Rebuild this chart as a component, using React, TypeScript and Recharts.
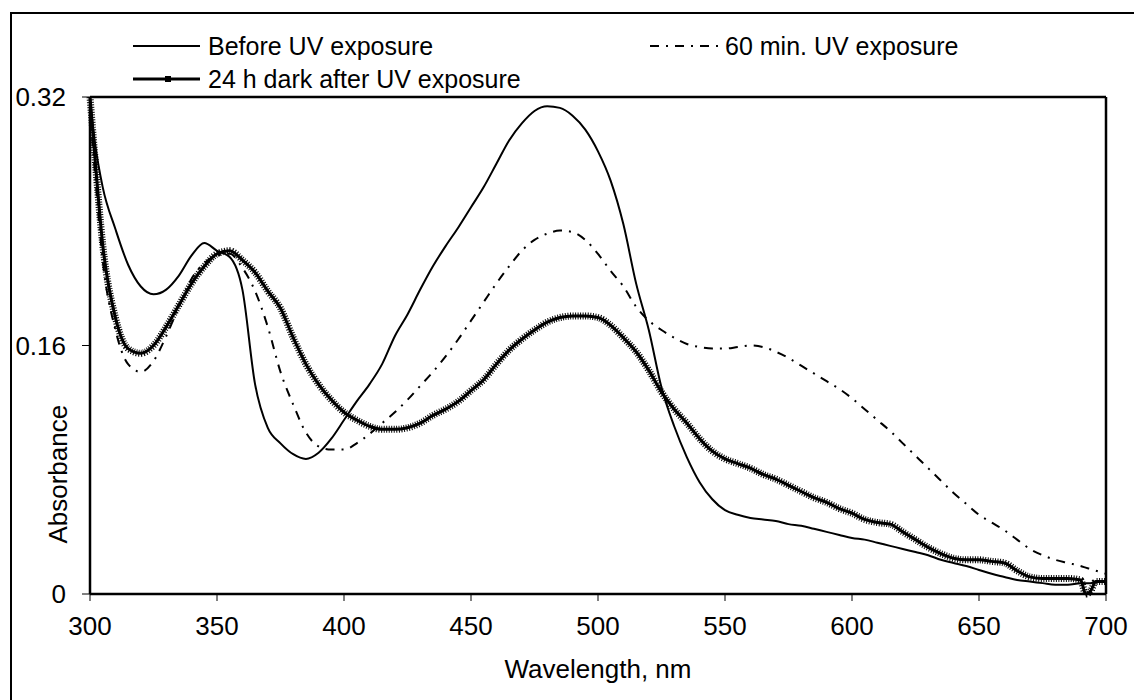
import React from "react";
import { LineChart, Line, XAxis, YAxis, ReferenceLine } from "recharts";

// wavelength, nm
const wavelengths = [
  300, 302, 305, 310, 315, 320, 325, 330, 335, 340, 345, 350, 355, 360, 365, 370, 375, 380, 385, 390,
  395, 400, 405, 410, 415, 420, 425, 430, 435, 440, 445, 450, 455, 460, 465, 470, 475, 480, 485, 490,
  495, 500, 505, 510, 515, 520, 525, 530, 535, 540, 545, 550, 555, 560, 565, 570, 575, 580, 585, 590,
  595, 600, 605, 610, 615, 620, 625, 630, 635, 640, 645, 650, 655, 660, 665, 670, 675, 680, 685, 690,
  692, 694, 696, 700,
];

const beforeUv = [
  0.318, 0.29, 0.262, 0.235, 0.212, 0.198, 0.193, 0.196, 0.205, 0.218, 0.226, 0.221, 0.217, 0.196, 0.135, 0.107, 0.097, 0.09, 0.087, 0.091,
  0.1, 0.112, 0.124, 0.135, 0.148, 0.166, 0.18, 0.196, 0.211, 0.224, 0.236, 0.249, 0.262, 0.277, 0.292, 0.303, 0.311, 0.314, 0.313, 0.308,
  0.299, 0.285, 0.266, 0.238, 0.2, 0.17, 0.133, 0.108, 0.088, 0.072, 0.061, 0.054, 0.051, 0.049, 0.048, 0.047, 0.045, 0.044, 0.042, 0.04,
  0.038, 0.036, 0.035, 0.033, 0.031, 0.029, 0.027, 0.025, 0.022, 0.02, 0.018, 0.0155, 0.013, 0.011, 0.009, 0.008, 0.007, 0.006, 0.006, 0.007,
  0.007, 0.007, 0.008, 0.008,
];

const uv60min = [
  0.31, 0.27, 0.215, 0.17, 0.148, 0.143, 0.15, 0.166, 0.185, 0.203, 0.213, 0.218, 0.219, 0.21, 0.195, 0.172, 0.143, 0.122, 0.104, 0.095,
  0.093, 0.093, 0.097, 0.103, 0.11, 0.117, 0.125, 0.134, 0.143, 0.153, 0.164, 0.176, 0.188, 0.2, 0.211, 0.221, 0.228, 0.232, 0.234, 0.233,
  0.228, 0.219, 0.208, 0.198, 0.185, 0.176, 0.17, 0.165, 0.161, 0.159, 0.158, 0.158, 0.159, 0.16, 0.159, 0.156, 0.152, 0.147, 0.142, 0.137,
  0.132, 0.126, 0.119, 0.112, 0.105, 0.097, 0.089, 0.081, 0.073, 0.065, 0.058, 0.051, 0.046, 0.041, 0.035, 0.029, 0.025, 0.022, 0.02, 0.018,
  0.017, 0.016, 0.015, 0.013,
];

const dark24h = [
  0.32, 0.28, 0.225, 0.178, 0.158, 0.155, 0.16, 0.172, 0.186, 0.2, 0.211, 0.219, 0.221, 0.215, 0.207, 0.195, 0.184, 0.165, 0.148, 0.135,
  0.125, 0.117, 0.112, 0.108, 0.106, 0.106, 0.107, 0.11, 0.115, 0.119, 0.124, 0.131, 0.138, 0.148, 0.157, 0.164, 0.17, 0.175, 0.178, 0.179,
  0.179, 0.178, 0.173, 0.165, 0.156, 0.144, 0.13, 0.119, 0.11, 0.1, 0.092, 0.087, 0.084, 0.081, 0.077, 0.074, 0.07, 0.066, 0.062, 0.059,
  0.055, 0.052, 0.048, 0.046, 0.045, 0.04, 0.035, 0.03, 0.026, 0.023, 0.022, 0.022, 0.021, 0.02, 0.015, 0.011, 0.01, 0.01, 0.01, 0.009,
  0.0, 0.002, 0.008, 0.008,
];

const xTicks = [300, 350, 400, 450, 500, 550, 600, 650, 700];
const yTicks = [0, 0.16, 0.32];

const data = wavelengths.map((w, i) => ({
  w,
  before: beforeUv[i],
  uv60: uv60min[i],
  dark: dark24h[i],
}));

const FONT = "'Liberation Sans', Arial, sans-serif";
const DASHDOT = "9 7 2 7";

function Legend() {
  const txt = { fontFamily: FONT, fontSize: 25, fill: "#000" };
  return (
    <svg width={1134} height={100} style={{ position: "absolute", left: 0, top: 0 }}>
      <line x1={133} x2={200} y1={46} y2={46} stroke="#000" strokeWidth={2} />
      <text x={208} y={46} dy="0.35em" {...txt}>Before UV exposure</text>
      <line x1={650} x2={718} y1={46} y2={46} stroke="#000" strokeWidth={2} strokeDasharray={DASHDOT} />
      <text x={725} y={46} dy="0.35em" {...txt}>60 min. UV exposure</text>
      <line x1={133} x2={200} y1={79} y2={79} stroke="#000" strokeWidth={3} />
      <rect x={165} y={76} width={6} height={6} fill="#000" />
      <text x={208} y={79} dy="0.35em" {...txt}>24 h dark after UV exposure</text>
    </svg>
  );
}

export default function App() {
  const tickStyle = { fontFamily: FONT, fontSize: 26, fill: "#000" };
  return (
    <div style={{ position: "absolute", left: 0, top: 0, width: 1134, height: 700, overflow: "hidden", background: "#fff" }}>
      <div
        style={{
          position: "absolute",
          left: 10,
          top: 12,
          width: 1200,
          height: 800,
          border: "2px solid #000",
          boxSizing: "border-box",
        }}
      />
      <Legend />
      <div style={{ position: "absolute", left: 0, top: 0 }}>
        <LineChart width={1134} height={700} data={data} margin={{ top: 97, right: 28, bottom: 46, left: 10 }}>
          <XAxis
            dataKey="w"
            type="number"
            domain={[300, 700]}
            ticks={xTicks}
            interval={0}
            height={60}
            tickSize={7}
            tickMargin={16}
            tick={tickStyle}
            stroke="#000"
            strokeWidth={2.5}
            tickLine={{ stroke: "#000", strokeWidth: 1 }}
            label={({ viewBox }: any) => (
              <text
                x={viewBox.x + viewBox.width / 2}
                y={669}
                dy="0.35em"
                textAnchor="middle"
                fontFamily={FONT}
                fontSize={26}
                fill="#000"
              >
                Wavelength, nm
              </text>
            )}
          />
          <YAxis
            domain={[0, 0.32]}
            ticks={yTicks}
            width={80}
            tickSize={8}
            tickMargin={16}
            tick={tickStyle}
            tickFormatter={(v: number) => String(v)}
            stroke="#000"
            strokeWidth={2.5}
            tickLine={{ stroke: "#000", strokeWidth: 1 }}
            label={({ viewBox }: any) => {
              const cx = viewBox.x + 47.5;
              const cy = viewBox.y + viewBox.height * 0.759;
              return (
                <text
                  x={cx}
                  y={cy}
                  dy="0.35em"
                  textAnchor="middle"
                  transform={`rotate(-90 ${cx} ${cy})`}
                  fontFamily={FONT}
                  fontSize={26}
                  fill="#000"
                >
                  Absorbance
                </text>
              );
            }}
          />
          {/* plot frame: top and right edges */}
          <ReferenceLine y={0.32} stroke="#000" strokeWidth={2.5} />
          <ReferenceLine x={700} stroke="#000" strokeWidth={2.5} />
          <Line dataKey="before" type="monotone" stroke="#000" strokeWidth={2} dot={false} isAnimationActive={false} />
          <Line dataKey="uv60" type="monotone" stroke="#000" strokeWidth={2} strokeDasharray={DASHDOT} dot={false} isAnimationActive={false} />
          <Line dataKey="dark" type="monotone" stroke="#000" strokeWidth={3} dot={false} isAnimationActive={false} />
          <Line dataKey="dark" type="monotone" stroke="#000" strokeWidth={7} strokeDasharray="1 1.5" dot={false} legendType="none" isAnimationActive={false} />
        </LineChart>
      </div>
    </div>
  );
}
